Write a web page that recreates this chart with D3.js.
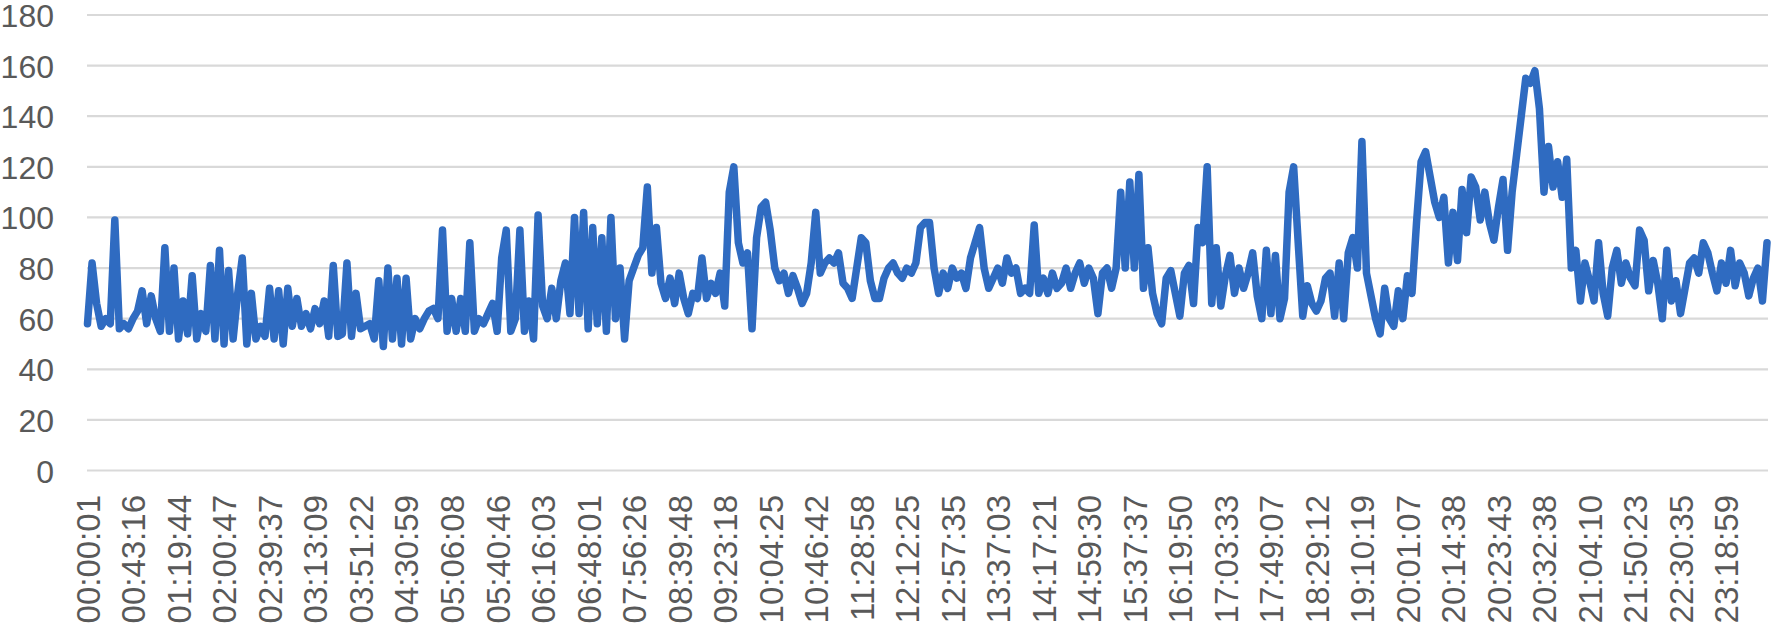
<!DOCTYPE html>
<html>
<head>
<meta charset="utf-8">
<script src="https://cdn.jsdelivr.net/npm/d3@7"></script>
<style>
  html, body { margin: 0; padding: 0; background: #ffffff; }
  svg { display: block; }
</style>
</head>
<body>
<svg id="chart" width="1775" height="625"></svg>
<script>
// ---- data ----
const tickLabels = [
  "00:00:01","00:43:16","01:19:44","02:00:47","02:39:37","03:13:09","03:51:22",
  "04:30:59","05:06:08","05:40:46","06:16:03","06:48:01","07:56:26","08:39:48",
  "09:23:18","10:04:25","10:46:42","11:28:58","12:12:25","12:57:35","13:37:03",
  "14:17:21","14:59:30","15:37:37","16:19:50","17:03:33","17:49:07","18:29:12",
  "19:10:19","20:01:07","20:14:38","20:23:43","20:32:38","21:04:10","21:50:23",
  "22:30:35","23:18:59"
];
const labelEvery = 10; // one label shown for every 10 samples

const values = [
  58, 82, 66, 57, 60, 58, 99, 56, 58, 56,
  60, 63, 71, 58, 69, 60, 55, 88, 55, 80,
  52, 67, 54, 77, 52, 62, 55, 81, 52, 87,
  50, 79, 52, 70, 84, 50, 70, 52, 57, 53,
  72, 52, 71, 50, 72, 57, 68, 57, 62, 56,
  64, 58, 67, 53, 81, 53, 54, 82, 53, 70,
  56, 57, 58, 52, 75, 49, 80, 52, 76, 50,
  76, 52, 60, 56, 60, 63, 64, 60, 95, 55,
  68, 55, 68, 55, 90, 55, 60, 58, 62, 66,
  55, 84, 95, 55, 60, 95, 55, 67, 52, 101,
  65, 60, 72, 60, 75, 82, 62, 100, 62,
  102, 56, 96, 58, 92, 55, 100, 60, 80, 52, 75,
  80, 85, 88, 112, 78, 96, 74, 68, 76, 66,
  78, 68, 62, 70, 68, 84, 68, 74, 70, 78,
  65, 110, 120, 90, 82, 86, 56, 92, 104, 106,
  95, 80, 75, 78, 70, 77, 72, 66, 70, 82,
  102, 78, 82, 84, 82, 86, 74, 72, 68, 80,
  92, 90, 75, 68, 68, 76, 80, 82, 78, 76,
  80, 78, 82, 96, 98, 98, 80, 70, 78, 72,
  80, 76, 78, 72, 84, 90, 96, 80, 72, 76,
  80, 74, 84, 78, 80, 70, 72, 70, 97, 70,
  76, 70, 78, 72, 74, 80, 72, 78, 82, 74,
  80, 76, 62, 78, 80, 72, 80, 110, 80, 114,
  80, 117, 72, 88, 70, 62, 58, 76,
  79, 70, 61, 78, 81, 66, 96, 90, 120, 66, 88, 65,
  77, 85, 70, 80, 72, 78, 86, 69, 60, 87,
  62, 85, 60, 68, 110, 120, 90, 61, 73, 66,
  63, 67, 76, 78, 61, 82, 60, 86, 92, 80,
  130, 78, 69, 60, 54, 72, 60, 57, 71, 60,
  77, 70, 98, 122, 126, 116, 106, 100, 108, 82,
  102, 83, 111, 94, 116, 112, 99, 110, 98, 91,
  104, 115, 87, 110, 125, 140, 155, 153, 158, 143,
  110, 128, 112, 122, 108, 123, 80, 87, 67, 82,
  75, 67, 90, 70, 61, 80, 87, 74, 82, 76,
  73, 95, 91, 71, 83, 74, 60, 87, 67, 75,
  62, 72, 82, 84, 78, 90, 86, 78, 71, 82,
  74, 87, 73, 82, 78, 69, 76, 80, 67, 90
];
const yTicks = [0, 20, 40, 60, 80, 100, 120, 140, 160, 180];

// ---- drawing ----
const svg = d3.select("#chart");
const W = 1775, H = 625;
const plotLeft = 87, plotRight = 1768, plotTop = 15, plotBottom = 470.5;
const fontFamily = "'Liberation Sans', Arial, sans-serif";
const textColor = "#595959";

svg.append("rect").attr("width", W).attr("height", H).attr("fill", "#ffffff");

const x = d3.scaleLinear().domain([0, values.length - 1]).range([87.5, 1767]);
const y = d3.scaleLinear().domain([0, 180]).range([plotBottom, plotTop]);

// gridlines
svg.append("g").selectAll("line").data(yTicks).join("line")
  .attr("x1", plotLeft).attr("x2", plotRight)
  .attr("y1", d => y(d)).attr("y2", d => y(d))
  .attr("stroke", "#d9d9d9").attr("stroke-width", 2.2);

// y axis labels
const yAxis = d3.axisLeft(y).tickValues(yTicks).tickSize(0).tickPadding(0);
const gy = svg.append("g").attr("transform", "translate(54,0)").call(yAxis);
gy.select(".domain").remove();
gy.selectAll("text")
  .attr("font-family", fontFamily).attr("font-size", 32)
  .attr("fill", textColor).attr("dy", "0.36em").attr("x", 0)
  .attr("text-anchor", "end");

// x axis labels (rotated)
const tickIdx = tickLabels.map((_, j) => j * labelEvery);
const xAxis = d3.axisBottom(x).tickValues(tickIdx)
  .tickFormat((d, j) => tickLabels[j]).tickSize(0).tickPadding(0);
const gx = svg.append("g").call(xAxis);
gx.select(".domain").remove();
gx.selectAll(".tick text")
  .attr("font-family", fontFamily).attr("font-size", 33)
  .attr("fill", textColor)
  .attr("text-anchor", "end")
  .attr("y", 0).attr("x", 0).attr("dy", "0.36em")
  .attr("transform", "translate(0,495) rotate(-90)");

// line
const line = d3.line().x((d, i) => x(i)).y(d => y(d));
svg.append("path").datum(values)
  .attr("d", line)
  .attr("fill", "none")
  .attr("stroke", "#2f6bc1")
  .attr("stroke-width", 7.5)
  .attr("stroke-linejoin", "round")
  .attr("stroke-linecap", "round");
</script>
</body>
</html>
